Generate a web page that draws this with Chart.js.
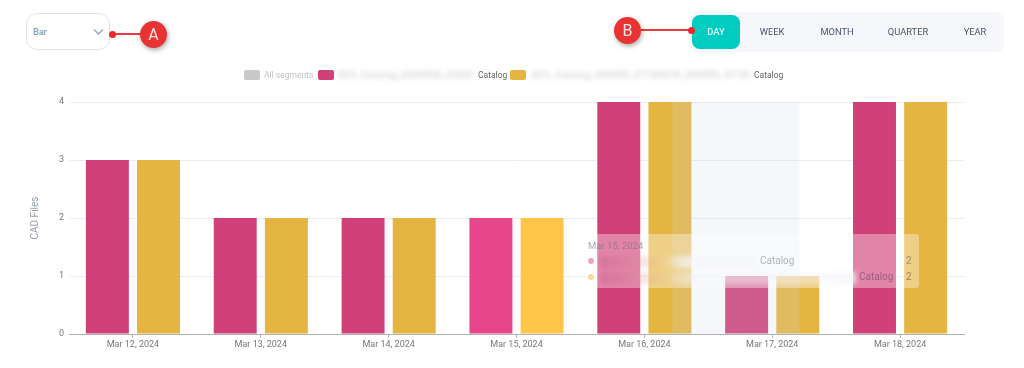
<!DOCTYPE html>
<html><head><meta charset="utf-8">
<script src="https://cdn.jsdelivr.net/npm/chart.js@4"></script>
<style>
html,body{margin:0;padding:0;background:#fff;width:1024px;height:368px;overflow:hidden;font-family:Roboto,sans-serif}
#c{position:absolute;left:0;top:0}
.a{position:absolute;white-space:nowrap}
.seg{position:absolute;top:12px;height:40px;line-height:40px;font-size:9.3px;color:#4a5568;transform:translateX(-50%)}
.sw{position:absolute;top:70px;width:16px;height:10px;border-radius:2px}
.lt{position:absolute;top:69px;font-size:8.5px;line-height:12px;color:#666;white-space:nowrap}
.bl{filter:blur(2.5px);color:#bbb;overflow:hidden;letter-spacing:.9px}
.dot{position:absolute;width:7px;height:7px;border-radius:50%;background:#f0262b}
.ln{position:absolute;height:2px;background:#f0383c}
.cir{position:absolute;width:27px;height:27px;border-radius:50%;background:#e93232;color:#ffe4e4;font-size:16px;line-height:27px;text-align:center;box-shadow:1px 2px 5px rgba(0,0,0,.35)}
</style></head><body>
<canvas id="c" width="1024" height="368"></canvas>

<div class="a" style="left:26px;top:13px;width:82px;height:35px;border:1.5px solid #dde5ee;border-radius:11px;background:#fff"></div>
<div class="a" style="left:33px;top:26px;font-size:9px;line-height:12px;font-weight:500;color:#7f9dbb">Bar</div>
<svg class="a" style="left:93px;top:28px" width="11" height="8"><path d="M1 1.5 L5.5 6 L10 1.5" fill="none" stroke="#8aa5c0" stroke-width="1.3"/></svg>
<div class="ln" style="left:112px;top:33px;width:30px"></div>
<div class="dot" style="left:109px;top:31px"></div>
<div class="cir" style="left:140px;top:21px">A</div>

<div class="a" style="left:690px;top:12px;width:314px;height:40px;background:#f5f7fa;border-radius:8px"></div>
<div class="a" style="left:692px;top:15px;width:48px;height:34px;background:#00ccc0;border-radius:8px"></div>
<div class="seg" style="left:716px;color:#dffaf7;font-weight:500">DAY</div>
<div class="seg" style="left:772px">WEEK</div>
<div class="seg" style="left:837px">MONTH</div>
<div class="seg" style="left:908px">QUARTER</div>
<div class="seg" style="left:975px">YEAR</div>
<div class="ln" style="left:641px;top:29px;width:50px"></div>
<div class="dot" style="left:688px;top:27px"></div>
<div class="cir" style="left:614px;top:17px">B</div>

<div class="sw" style="left:244px;background:#c8c8c8"></div>
<div class="lt" style="left:264px;color:#c4c4c4">All segments</div>
<div class="sw" style="left:318px;background:#d14078"></div>
<div class="lt bl" style="left:338px;width:134px">DEV_Catalog_0200R00_0200R00</div>
<div class="lt" style="left:478px">Catalog</div>
<div class="sw" style="left:510px;background:#e6b541"></div>
<div class="lt bl" style="left:532px;width:218px">DEV_Catalog_0490R0_0718007R_0490R0_0718007R</div>
<div class="lt" style="left:754px">Catalog</div>

<div class="a" style="left:580px;top:234px;width:339px;height:54px;border-radius:3px;background:rgba(255,255,255,.36)"></div>
<div class="a" style="left:588px;top:240px;font-size:9.5px;line-height:12px;color:rgba(110,110,110,.6)">Mar 15, 2024</div>
<div class="a" style="left:588px;top:258px;width:6px;height:6px;border-radius:50%;background:#eba6c1"></div>
<div class="a" style="left:588px;top:274px;width:6px;height:6px;border-radius:50%;background:#f4d9a0"></div>
<div class="a" style="left:600px;top:256px;width:156px;height:12px;background:linear-gradient(90deg,rgba(190,80,130,.3),rgba(235,200,150,.2) 40%,rgba(245,245,250,.7) 55%);filter:blur(2px)"></div>
<div class="a" style="left:600px;top:272px;width:256px;height:12px;background:linear-gradient(90deg,rgba(190,80,130,.3),rgba(235,200,150,.2) 25%,rgba(245,245,250,.4) 35%,rgba(245,245,250,.4) 85%,rgba(245,245,250,.7) 100%);filter:blur(2px)"></div>
<div class="a" style="left:760px;top:255px;font-size:10px;line-height:12px;color:rgba(110,110,125,.5)">Catalog</div>
<div class="a" style="left:859px;top:271px;font-size:10px;line-height:12px;color:rgba(120,70,110,.65)">Catalog</div>
<div class="a" style="left:906px;top:255px;font-size:10px;line-height:12px;color:rgba(120,100,100,.65)">2</div>
<div class="a" style="left:906px;top:271px;font-size:10px;line-height:12px;color:rgba(120,100,70,.7)">2</div>

<script>
const categories = ["Mar 12, 2024","Mar 13, 2024","Mar 14, 2024","Mar 15, 2024","Mar 16, 2024","Mar 17, 2024","Mar 18, 2024"];
const seriesPink = [3,2,2,2,4,1,4];
const seriesYellow = [3,2,2,2,4,1,4];
const yTicks = [0,1,2,3,4];

const pink = "#d14078", pinkHover = "#e8468a";
const yellow = "#e6b541", yellowHover = "#ffc649";
const hoverIndex = 3;

const hoverBand = {
  id:"hoverBand",
  afterDatasetsDraw(chart){
    const x = chart.scales.x, a = chart.chartArea, ctx = chart.ctx;
    const w = x.getPixelForValue(1) - x.getPixelForValue(0);
    const left = x.getPixelForValue(5) - 0.78 * w;
    ctx.save();
    ctx.fillStyle = "rgba(203,213,236,.19)";
    ctx.fillRect(left, a.top, w * 0.992, a.bottom - a.top);
    ctx.restore();
  }
};

new Chart(document.getElementById("c"), {
  type:"bar",
  plugins:[hoverBand],
  data:{labels:categories,datasets:[
    {label:"Catalog A",data:seriesPink,backgroundColor:categories.map((_,i)=>i===hoverIndex?pinkHover:pink)},
    {label:"Catalog B",data:seriesYellow,backgroundColor:categories.map((_,i)=>i===hoverIndex?yellowHover:yellow)}
  ]},
  options:{
    responsive:false,animation:false,
    layout:{padding:{left:29,right:60,top:102,bottom:12}},
    datasets:{bar:{categoryPercentage:.8,barPercentage:.84}},
    plugins:{legend:{display:false},tooltip:{enabled:false}},
    scales:{
      x:{
        afterFit(s){s.height=22},
        grid:{drawOnChartArea:false,offset:false,color:"#b5b5b5",tickLength:4},
        border:{color:"#b0b0b0",width:1},
        ticks:{color:"#777",font:{family:"Roboto",size:9},padding:1,maxRotation:0}
      },
      y:{
        min:0,max:4,
        afterFit(s){s.width=40},
        afterBuildTicks(s){s.ticks=yTicks.map(v=>({value:v}))},
        title:{display:true,text:"CAD Files",color:"#97a0aa",font:{family:"Roboto",size:10},padding:{top:0,bottom:14}},
        grid:{color:"#e9edf5",drawTicks:false},
        border:{display:false},
        ticks:{color:"#777",font:{family:"Roboto",size:9},padding:5}
      }
    }
  }
});
</script>
</body></html>
